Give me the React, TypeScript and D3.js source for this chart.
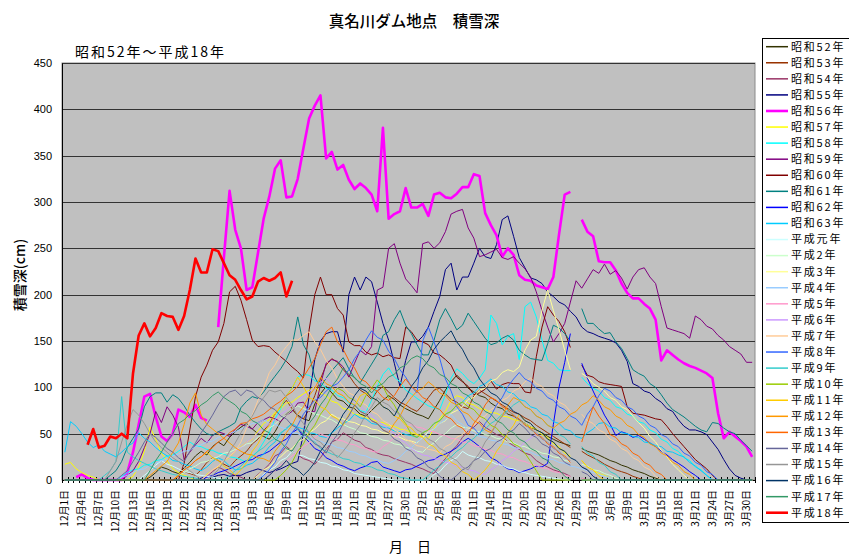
import React, { useEffect, useRef } from 'react'
import * as d3 from 'd3'

// 12月1日〜3月31日 (2月は29日まで用意、平年は29日を欠測扱い)
const monthNames = ['12月', '1月', '2月', '3月']
const monthDays = [31, 31, 29, 31]
const yTicks = [0, 50, 100, 150, 200, 250, 300, 350, 400, 450]

const seriesNames = [
  '昭和52年', '昭和53年', '昭和54年', '昭和55年', '昭和56年', '昭和57年', '昭和58年', '昭和59年',
  '昭和60年', '昭和61年', '昭和62年', '昭和63年', '平成元年', '平成2年', '平成3年', '平成4年',
  '平成5年', '平成6年', '平成7年', '平成8年', '平成9年', '平成10年', '平成11年', '平成12年',
  '平成13年', '平成14年', '平成15年', '平成16年', '平成17年', '平成18年'
]
const seriesColors = [
  '#333300', '#993300', '#993366', '#000080', '#FF00FF', '#FFFF00', '#00FFFF', '#800080',
  '#800000', '#008080', '#0000FF', '#00CCFF', '#CCFFFF', '#CCFFCC', '#FFFF99', '#99CCFF',
  '#FF99CC', '#CC99FF', '#FFCC99', '#3366FF', '#33CCCC', '#99CC00', '#FFCC00', '#FF9900',
  '#FF6600', '#666699', '#969696', '#003366', '#339966', '#FF0000'
]
const thickSeries = ['昭和56年', '平成18年']

// 積雪深(cm)  月ごとに "|" 区切り、"_" は欠測、"v*n" は同じ値の繰り返し
const s52 = '0*15,3,8,14,12,9,7,13,19,26,31,27,36,41,37,46,52|57,61,55,50,47,44,52,63,71,76,70,66,64,82,93,101,94,87,85,79,77,71,69,75,81,86,91,87,81,77,74|71,69,66,76,86,97,106,113,107,99,95,91,89,83,79,77,71,69,65,61,57,54,51,47,44,41,39,37,_|34,31,29,27,24,21,19,16,14,11,9,7,4,2,0*17'
const s53 = '0*20,4,9,7,5,11,19,24,21,17,14,21|26,31,39,44,53,61,71,79,86,77,69,66,76,91,109,124,131,127,119,113,104,97,93,87,96,101,95,89,84,81,77|74,81,89,97,99,93,87,84,79,77,91,97,93,89,85,81,77,73,71,67,64,59,55,51,47,43,39,35,_|31,27,24,21,17,14,11,9,7,4,2,0*20'
const s54 = '0*25,4,9,14,11,7,5|3,0,0,6,11,17,26,29,36,31,27,23,21,17,24,33,41,44,51,47,43,41,35,33,29,27,26,23,21,19,17|14,12,9,7,16,23,31,37,46,53,57,63,57,53,49,47,41,37,33,29,27,21,17,14,11,9,7,4,_|2,0*30'
const s55 = '0*24,2,4,3,5,6,4,5|5,8,10,12,10,8,10,12,15,18,20,50,90,130,150,158,160,160,138,200,219,205,219,214,192,169,151,126,101,129,149|149,155,165,182,198,227,234,205,219,219,234,250,241,239,254,281,285,263,240,229,218,216,212,203,198,192,189,182,176|165,160,158,155,153,151,148,140,128,104,101,96,94,88,84,77,74,65,58,54,54,52,49,41,33,22,12,5,2,0,0'
const s56 = '_,_,3,6,2,0,0,0,0,0,0,8,30,60,90,93,68,47,42,50,76,73,68,81,67,64,_,165,240,312,270|250,205,208,245,282,306,336,345,305,306,325,358,390,404,415,347,354,335,340,324,314,320,315,308,290,380,282,287,290,315,294|294,298,285,308,310,305,304,309,316,316,330,328,288,275,264,241,250,243,221,216,215,210,208,206,219,265,308,311,_|281,268,263,236,235,235,226,212,202,196,196,190,185,173,129,140,135,130,126,123,121,118,115,110,72,45,52,47,42,36,25'
const s57 = '17,19,12,8,5,3,0,0,0,0,0,0,4,14,31,57,44,29,21,12,8,5,3,0,0,6,11,14,21,24,31|36,41,44,53,61,65,73,77,83,84,89,93,97,101,94,91,85,83,77,76,71,70,67,66,63,62,59,58,55,54,51|49,47,45,56,66,74,86,91,89,83,81,77,76,73,72,69,68,65,64,61,57,55,49,46,39,36,29,26,_|21,14,11,7,5,2,0*25'
const s58 = '0*10,4,8,11,12,16,17,21,22,26,27,31,36,41,37,36,33,32,29,28,25,24|22,19,26,31,41,51,66,77,91,99,111,114,113,107,105,99,97,91,89,83,81,75,73,86,101,114,121,111,106,97,93|88,84,80,78,76,92,110,120,115,108,104,110,119,178,169,146,155,158,130,187,192,176,151,129,126,119,118,118,_|111,104,99,96,89,86,79,77,71,69,63,61,54,51,44,41,34,31,24,21,14,11,5,0*8'
const s59 = '0*11,5,10,20,35,50,74,62,79,70,57,22,30,38,45,40,48,52,50,47,55|60,58,55,62,65,68,66,63,70,74,83,84,74,74,103,126,130,128,122,111,126,140,135,144,205,208,250,255,234,217,210|202,255,257,250,256,268,287,290,292,272,261,241,243,246,249,240,238,241,234,228,219,203,183,165,149,158,169,192,215|207,217,227,223,233,222,226,218,206,219,227,229,219,212,187,164,162,160,158,153,177,173,166,163,156,151,144,140,136,127,127'
const s60 = '0*21,18,54,90,111,124,140,149,169,203,209|194,173,151,144,145,144,138,133,128,122,117,110,162,200,219,200,200,185,178,149,145,145,138,135,137,133,135,132,131,165,160|151,149,146,137,135,130,124,111,106,101,92,94,98,107,98,103,105,104,104,95,94,133,165,187,178,171,160,143,_|124,113,111,106,104,103,102,101,79,72,71,70,68,66,65,58,50,43,36,29,22,17,12,5,0*7'
const s61 = '0*8,5,10,20,35,45,55,79,90,94,94,84,92,88,80,70,62,55,50,48,52,55,58,62|78,85,90,88,95,104,112,120,130,144,176,146,135,111,100,110,118,125,132,120,110,105,115,125,135,156,160,173,183,167,158|146,135,135,151,173,185,174,162,167,180,171,162,153,146,148,153,156,151,140,135,131,130,129,147,167,164,158,150,_|185,169,169,163,158,159,149,142,131,119,115,112,104,100,92,83,76,72,68,63,58,54,52,62,61,56,52,50,43,37,31'
const s62 = '0*25,3,5,8,10,12,15|18,21,22,26,28,31,36,41,44,51,55,47,41,34,31,24,21,17,15,12,10,13,15,19,20,14,12,10,8,11,12|15,18,21,22,26,28,31,35,41,45,41,36,31,24,21,16,12,11,8,10,12,15,14,18,60,100,127,158,_|126,110,96,83,70,60,48,52,50,46,48,44,40,36,31,27,22,18,14,9,5,0*10'
const s63 = '30,63,58,50,41,35,38,31,28,25,30,36,40,51,45,41,35,30,26,21,20,17,15,12,10,14,20,24,21,15,11|12,16,18,23,28,36,41,50,56,61,57,55,51,50,47,46,51,56,61,64,71,67,66,61,60,57,56,53,52,49,48|46,51,54,61,64,71,74,81,84,91,94,101,104,109,103,101,95,93,87,85,79,77,71,69,63,61,55,53,47|45,51,55,61,62,57,56,51,50,47,46,41,40,37,36,31,30,27,25,19,15,10,5,0*8'
const h01 = '0*14,5,10,16,21,17,15,12,9,8,6,5,4,3,2,0,0,0|0,0,0,0,6,11,14,21,24,31,27,26,23,22,19,18,15,14,11,10,7,6,5,4,3,2,1,0,0,0,0|0,0,0,6,9,16,21,24,31,27,25,24,21,20,17,16,13,12,9,8,6,5,4,3,2,1,0,0,_|0*31'
const h02 = '0*20,5,8,12,15,19,20,23,25,29,30,33|35,39,40,46,50,56,60,66,70,76,80,77,75,71,70,67,65,61,60,57,55,51,50,47,46,43,42,39,38,35,34|31,30,36,40,46,50,56,60,57,56,53,52,49,48,45,44,41,40,37,36,33,32,29,28,25,24,21,20,_|17,15,11,10,7,5,2,0*24'
const h03 = '0*31|0,0,0,5,11,14,21,25,31,34,41,44,51,55,61,64,71,67,66,63,62,59,58,55,54,51,50,47,46,43,42|40,46,52,55,61,64,72,75,79,87,89,97,99,107,109,116,119,117,122,140,151,155,183,205,183,162,140,119,_|115,111,104,100,96,89,86,79,76,69,62,56,47,41,32,25,17,11,5,0*12'
const h04 = '0*10,3,5,8,11,12,16,18,21,22,26,28,31,32,36,38,41,42,46,48,51,52|55,58,61,62,65,61,60,57,55,51,50,47,46,43,42,39,38,35,34,31,30,27,26,23,22,19,18,21,25,31,35|41,45,51,55,61,65,71,64,60,54,50,47,46,43,42,39,38,35,34,31,30,27,26,23,22,19,18,15,14|12,10,8,6,4,2,0*25'
const h05 = '0*31|0,0,0,0,0,6,10,16,20,26,30,36,40,46,50,47,46,43,42,39,38,35,34,31,30,36,40,46,50,56,60|57,56,53,52,49,48,45,44,41,40,37,36,33,32,29,28,25,24,21,20,17,16,13,12,9,8,5,4,_|2,0*30'
const h06 = '0*25,5,11,15,21,25,31|35,41,45,51,55,61,65,71,75,81,85,91,95,101,105,110,104,100,94,90,84,80,74,70,64,60,54,50,44,40,34|30,27,26,23,22,19,18,15,14,11,10,7,6,11,15,21,25,31,35,41,45,50,44,40,34,30,24,20,_|15,10,5,0*28'
const h07 = '0*25,5,11,15,21,26,31|41,56,70,86,99,116,124,136,144,151,151,156,160,149,141,129,121,109,101,94,91,84,81,74,71,64,61,54,51,44,41|37,36,33,32,29,36,39,46,49,56,59,66,69,76,79,86,89,96,99,106,110,104,101,94,91,84,81,74,_|71,64,61,54,51,44,41,34,31,24,21,14,11,4,0*17'
const h08 = '0*31|0,0,0,0,5,11,19,31,39,51,59,71,79,86,89,96,101,104,111,119,131,139,151,161,154,151,139,131,119,111,101|94,150,165,149,131,109,96,79,71,59,56,49,61,69,81,89,101,109,116,109,106,99,96,89,86,79,76,69,66|59,71,79,91,99,96,89,86,79,76,69,66,59,56,49,46,39,36,29,26,19,16,9,6,0*7'
const h09 = '0,0,0,0,0,0,0,5,10,20,90,30,25,21,18,15,12,10,8,6,5,4,3,2,0,0,0,0,0,5,10|15,21,25,31,35,41,45,51,55,61,54,51,44,41,34,31,28,26,23,22,19,18,15,14,11,10,7,6,3,2,0|0,0,5,11,15,21,25,31,35,41,45,51,55,61,65,71,75,81,85,79,76,69,66,59,56,49,46,39,_|36,29,26,19,16,9,6,0*24'
const h10 = '0*31|0,0,0,0,0,0,0,5,11,19,31,39,51,59,71,79,91,99,96,89,86,79,91,99,108,101,89,81,69,61,49|46,51,54,61,64,71,74,81,84,79,76,69,66,59,56,49,46,39,36,29,20,10,0,0,0,0,0,0,_|0*31'
const h11 = '0*20,5,11,15,21,25,30,24,21,15,11,5|11,19,31,39,51,59,71,79,91,99,111,101,89,86,79,76,69,66,59,71,79,91,94,89,86,79,76,69,66,59,56|49,46,39,36,29,26,19,16,9,6,0,5,11,19,31,39,51,59,71,64,61,54,51,44,41,34,31,24,_|21,14,11,4,0*27'
const h12 = '0*15,5,10,15,20,30,40,60,83,94,70,60,55,50,45,40,35|31,28,27,24,23,20,31,39,51,59,71,79,91,99,111,104,101,94,91,84,81,74,71,64,61,54,51,61,69,81,89|96,99,106,101,94,91,84,81,74,71,64,61,54,51,61,69,81,89,86,79,76,69,66,59,56,61,64,71,74|81,84,91,86,79,76,69,66,59,56,49,46,39,36,29,26,19,16,9,6,0*11'
const h13 = '0*20,5,11,15,21,25,31,35,41,45,51,55|61,62,66,68,71,76,81,85,91,95,101,111,121,131,146,160,165,149,141,129,121,109,106,99,96,89,86,91,101,109,101|96,89,86,79,76,69,66,59,56,49,61,69,81,89,86,79,76,69,66,59,56,49,46,39,36,29,26,19,_|41,61,79,69,61,49,46,39,36,29,26,19,16,9,6,0*16'
const h14 = '0*10,5,10,20,30,41,50,46,40,34,30,24,20,31,40,51,60,70,81,90,95,97|91,97,95,89,86,79,76,69,66,59,56,49,46,39,36,29,41,49,61,69,81,74,71,64,61,54,51,44,41,34,31|24,21,14,11,4,0,0,5,11,14,21,24,31,34,41,44,51,54,61,56,49,46,39,36,29,26,19,16,_|9,6,0*29'
const h15 = '0*8,10,20,41,60,76,70,61,50,41,35,30,24,20,14,10,5,0,0,5,11,20,31,40|51,61,69,81,89,97,95,97,89,81,69,61,51,44,41,34,31,24,31,39,51,59,71,79,89,84,81,74,71,64,61|54,51,44,41,34,31,24,21,14,11,21,29,41,49,61,69,74,71,64,61,54,51,44,41,34,31,24,21,_|14,11,4,0*28'
const h16 = '0*31|0,0,0,0,0,5,11,14,21,14,11,5,11,19,31,39,51,59,71,79,91,99,96,89,86,79,76,69,81,89,101|109,121,129,141,149,155,161,149,141,129,121,109,101,94,91,84,81,74,71,64,61,54,51,44,41,34,31,24,21|14,11,4,0*28'
const h17 = '0*15,10,21,30,41,50,61,65,71,75,81,85,91,95,89,85,81|74,71,64,61,54,51,44,41,34,31,41,49,61,69,81,89,101,109,121,114,111,104,101,94,101,104,111,114,121,124,131|134,131,124,121,114,111,104,101,94,91,84,81,74,71,64,61,54,51,44,41,34,31,24,21,14,11,4,0,_|0*31'
const h18 = '_,_,_,_,38,55,35,37,47,45,50,45,115,156,169,155,164,180,177,176,162,177,205,239,224,224,249,247,234,221,216|205,195,198,214,218,215,218,224,198,215,_*21|_*29|_*31'

const rawSeries = [
  s52, s53, s54, s55, s56, s57, s58, s59, s60, s61, s62, s63,
  h01, h02, h03, h04, h05, h06, h07, h08, h09, h10, h11, h12,
  h13, h14, h15, h16, h17, h18
]

function parseSeries(raw: string): (number | null)[] {
  const months = raw.split('|')
  const out: (number | null)[] = []
  monthDays.forEach((n, m) => {
    const vals: (number | null)[] = []
    ;(months[m] || '').split(',').forEach(tok => {
      const t = tok.trim()
      if (!t) return
      const [v, rep] = t.split('*')
      const val = v === '_' ? null : +v
      const count = rep ? +rep : 1
      for (let k = 0; k < count; k++) vals.push(val)
    })
    for (let k = 0; k < n; k++) out.push(k < vals.length ? vals[k] : null)
  })
  return out
}

const dayLabels: string[] = []
monthNames.forEach((m, mi) => {
  for (let d = 1; d <= monthDays[mi]; d++) dayLabels.push(m + d + '日')
})

const JP = '"Noto Sans CJK JP", "Noto Sans", sans-serif'
const NUM = '"Liberation Sans", Arial, sans-serif'

function SnowChart() {
  const ref = useRef<SVGSVGElement>(null)

  useEffect(() => {
    const svg = d3.select(ref.current)
    svg.selectAll('*').remove()

    const left = 62, right = 755, top = 63, bottom = 480
    const n = dayLabels.length
    const x = d3.scaleBand<number>().domain(d3.range(n)).range([left, right])
    const y = d3.scaleLinear().domain([0, 450]).range([bottom, top])
    const bw = x.bandwidth()
    const crisp = (v: number) => Math.round(v) + 0.5

    svg.append('rect').attr('width', 849).attr('height', 555).attr('fill', '#fff')

    // 見出し
    svg.append('text').attr('x', 414).attr('y', 27).attr('text-anchor', 'middle')
      .style('font-family', JP).style('font-size', '15.5px').style('font-weight', 500)
      .text('真名川ダム地点　積雪深')
    svg.append('text').attr('x', 75).attr('y', 57)
      .style('font-family', JP).style('font-size', '14px').style('letter-spacing', '2px')
      .text('昭和52年～平成18年')

    // プロットエリア
    svg.append('rect').attr('x', left).attr('y', top).attr('width', right - left).attr('height', bottom - top)
      .attr('fill', '#C0C0C0').attr('stroke', '#8a8a8a')

    svg.append('g').selectAll('line').data(yTicks.filter(t => t > 0)).enter().append('line')
      .attr('x1', left).attr('x2', right)
      .attr('y1', d => crisp(y(d))).attr('y2', d => crisp(y(d)))
      .attr('stroke', '#333').attr('stroke-width', 1)

    // Y軸
    const yAxis = svg.append('g').attr('transform', `translate(${left},0)`)
      .call(d3.axisLeft(y).tickValues(yTicks).tickSize(0).tickPadding(10).tickFormat(d3.format('d')))
    yAxis.select('.domain').attr('stroke', '#000')
    yAxis.selectAll('text').style('font-family', NUM).style('font-size', '11px').attr('fill', '#000')

    // X軸
    svg.append('line').attr('x1', left).attr('x2', right).attr('y1', bottom + 0.5).attr('y2', bottom + 0.5)
      .attr('stroke', '#000')
    svg.append('g').selectAll('line').data(d3.range(n + 1)).enter().append('line')
      .attr('x1', d => crisp(d < n ? (x(d) as number) : right))
      .attr('x2', d => crisp(d < n ? (x(d) as number) : right))
      .attr('y1', bottom - 3).attr('y2', bottom + 3)
      .attr('stroke', '#000')

    const xAxis = svg.append('g').attr('transform', `translate(0,${bottom})`)
      .call(d3.axisBottom(x).tickValues(d3.range(0, n, 3)).tickSize(0).tickFormat(i => dayLabels[i as number]))
    xAxis.select('.domain').remove()
    xAxis.selectAll('text')
      .attr('transform', 'rotate(-90)')
      .attr('text-anchor', 'end')
      .attr('x', -10).attr('y', 0).attr('dy', '0.35em')
      .style('font-family', JP).style('font-size', '10px').attr('fill', '#000')

    // 系列
    const line = d3.line<number | null>()
      .defined(d => d != null)
      .x((d, i) => (x(i) as number) + bw / 2)
      .y(d => y(d as number))

    const series = rawSeries.map((raw, k) => ({ name: seriesNames[k], color: seriesColors[k], values: parseSeries(raw) }))

    svg.append('g').selectAll('path').data(series).enter().append('path')
      .attr('d', d => line(d.values))
      .attr('fill', 'none')
      .attr('stroke', d => d.color)
      .attr('stroke-width', d => thickSeries.includes(d.name) ? 2.6 : 1)
      .attr('stroke-linejoin', 'round')

    // 軸タイトル
    svg.append('text').attr('transform', 'translate(20,275) rotate(-90)')
      .attr('text-anchor', 'middle').attr('dy', '0.35em')
      .style('font-family', JP).style('font-size', '14px').style('font-weight', 500).text('積雪深(cm)')
    svg.append('text').attr('x', 410).attr('y', 552).attr('text-anchor', 'middle')
      .style('font-family', JP).style('font-size', '14px').text('月　日')

    // 凡例
    const lg = svg.append('g')
    lg.append('rect').attr('x', 762.5).attr('y', 38.5).attr('width', 100).attr('height', 484)
      .attr('fill', '#fff').attr('stroke', '#000')
    const item = lg.selectAll('g.item').data(series).enter().append('g').attr('class', 'item')
      .attr('transform', (d, k) => `translate(0,${46.7 + k * 16.07})`)
    item.append('line').attr('x1', 766).attr('x2', 788).attr('y1', 0).attr('y2', 0)
      .attr('stroke', d => d.color)
      .attr('stroke-width', d => thickSeries.includes(d.name) ? 2.6 : 1.5)
    item.append('text').attr('x', 791).attr('dy', '0.35em')
      .style('font-family', JP).style('font-size', '11px').style('letter-spacing', '1.8px')
      .text(d => d.name)
  }, [])

  return <svg ref={ref} width={849} height={555} style={{ position: 'absolute', left: 0, top: 0 }} />
}

export default function App() {
  return <SnowChart />
}
